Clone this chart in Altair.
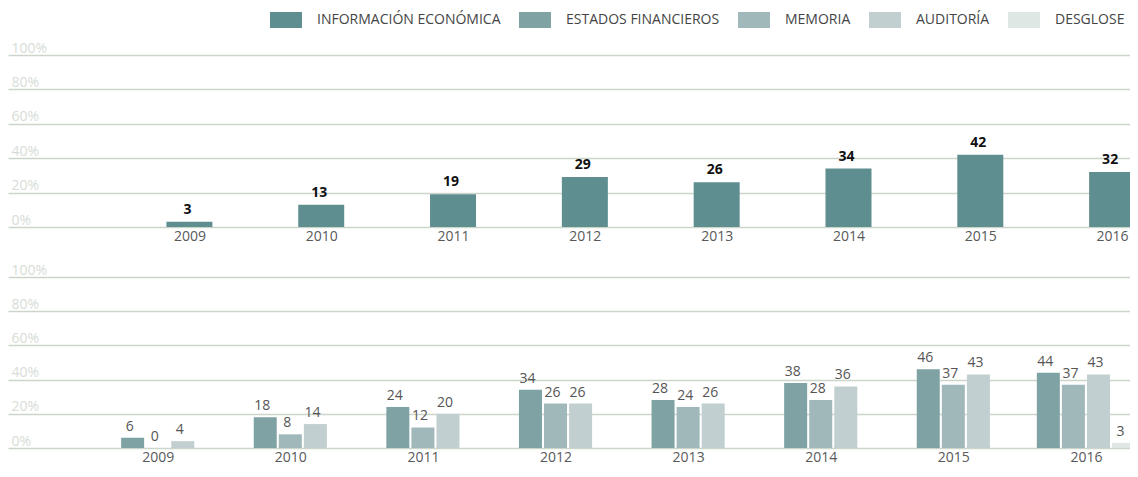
import altair as alt
import pandas as pd

years = [2009, 2010, 2011, 2012, 2013, 2014, 2015, 2016]
info_eco = [3, 13, 19, 29, 26, 34, 42, 32]
estados = [6, 18, 24, 34, 28, 38, 46, 44]
memoria = [0, 8, 12, 26, 24, 28, 37, 37]
auditoria = [4, 14, 20, 26, 26, 36, 43, 43]
desglose_years = [2016]
desglose = [3]

series = ["INFORMACIÓN ECONÓMICA", "ESTADOS FINANCIEROS", "MEMORIA", "AUDITORÍA", "DESGLOSE"]
colors = ["#5e8e90", "#7fa2a5", "#a1b8ba", "#c2cfd0", "#dfe7e5"]

FONT = "Open Sans"

df_top = pd.DataFrame({"year": years, "value": info_eco, "serie": series[0]})

rows = []
for name, vals, yrs in [
    (series[1], estados, years),
    (series[2], memoria, years),
    (series[3], auditoria, years),
    (series[4], desglose, desglose_years),
]:
    for y, v in zip(yrs, vals):
        rows.append({"year": y, "value": v, "serie": name, "order": series.index(name)})
df_bot = pd.DataFrame(rows)

color_scale = alt.Scale(domain=series, range=colors)

legend = alt.Legend(
    title=None,
    orient="none",
    legendX=270,
    legendY=-43,
    padding=0,
    direction="horizontal",
    symbolType="M-2,-1H2V1H-2Z",
    symbolSize=256,
    symbolStrokeWidth=0,
    symbolOpacity=1,
    labelOffset=23,
    columnPadding=18,
    labelFont=FONT,
    labelFontSize=14,
    labelColor="#444444",
    labelLimit=400,
)

def y_axis():
    return alt.Axis(
        values=[0, 20, 40, 60, 80, 100],
        labelExpr="datum.value + '%'",
        title=None,
        domain=False,
        ticks=False,
        tickSize=0,
        grid=True,
        gridColor="#cbd5ca",
        gridWidth=1.4,
        labelAlign="left",
        labelBaseline="alphabetic",
        labelPadding=-3,
        labelOffset=-3,
        labelColor="#d6ddd6",
        labelFont=FONT,
        labelFontSize=14,
        labelFlush=False,
        labelOverlap=False,
    )

def x_axis():
    return alt.Axis(
        values=years,
        format="d",
        title=None,
        domain=False,
        ticks=False,
        tickSize=0,
        grid=False,
        labelPadding=2,
        labelColor="#595959",
        labelFont=FONT,
        labelFontSize=14,
        labelFlush=False,
        labelOverlap=False,
        labelBound=False,
    )

W = 1122

# top panel
x_top = alt.X("year:Q", scale=alt.Scale(domain=[2007.6617, 2016.0977], nice=False, zero=False), axis=x_axis())
y_top = alt.Y("value:Q", scale=alt.Scale(domain=[0, 100], nice=False), axis=y_axis())

top_base = alt.Chart(df_top)
top_bars = top_base.mark_bar(clip=True, size=46).encode(
    x=x_top, y=y_top,
    color=alt.Color("serie:N", scale=color_scale, legend=legend, sort=series),
)
top_text = top_base.mark_text(
    baseline="alphabetic", dy=-8, dx=-2, font=FONT, fontSize=14, fontWeight="bold", color="#111111"
).encode(x=x_top, y=y_top, text="value:Q")
top = alt.layer(top_bars, top_text).properties(width=W, height=172)

# bottom panel
slot = 25.3 / 133.8
x_bot = alt.X("pos:Q", scale=alt.Scale(domain=[2007.9088, 2016.2945], nice=False, zero=False), axis=x_axis())
y_bot = alt.Y("value:Q", scale=alt.Scale(domain=[0, 100], nice=False), axis=y_axis())

bot_base = alt.Chart(df_bot).transform_window(
    k="rank()", groupby=["year"], sort=[alt.SortField("order")]
).transform_joinaggregate(
    n="count()", groupby=["year"]
).transform_calculate(
    pos=f"datum.year + (datum.k - 1 - (datum.n - 1) / 2) * {slot}"
)
bot_bars = bot_base.mark_bar(clip=True, size=23).encode(
    x=x_bot, y=y_bot,
    color=alt.Color("serie:N", scale=color_scale, legend=legend, sort=series),
)
bot_text = bot_base.mark_text(
    baseline="alphabetic", dy=-7, dx=-3, font=FONT, fontSize=14, color="#555555"
).encode(x=x_bot, y=y_bot, text="value:Q")
bottom = alt.layer(bot_bars, bot_text).properties(width=W, height=171)

chart = alt.vconcat(top, bottom, spacing=50, bounds="flush").properties(
    padding={"top": 4, "left": 0, "right": 0, "bottom": 0}
).configure(font=FONT).configure_view(stroke=None)

chart.save("out.html", embed_options={"renderer": "svg", "actions": False})
